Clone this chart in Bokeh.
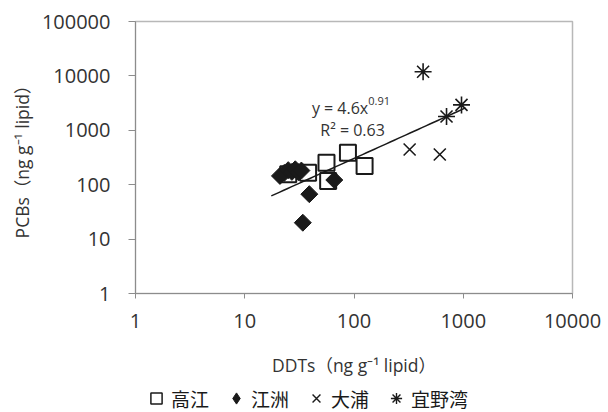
import numpy as np
from bokeh.plotting import figure
from bokeh.layouts import column
from bokeh.models import (FixedTicker, CustomJSTickFormatter, Label, Legend, LegendItem,
                          Range1d)
from bokeh.embed import file_html
from bokeh.resources import INLINE

# ---- data ----
site_names = ["高江", "江洲", "大浦", "宜野湾"]

gaojiang_ddt = [25, 38, 56, 58, 88, 125]
gaojiang_pcb = [155, 166, 253, 117, 385, 220]

jiangzhou_ddt = [21, 23, 25, 27, 29, 31, 33, 39, 34, 66]
jiangzhou_pcb = [145, 165, 185, 172, 192, 170, 182, 67, 20, 122]

daura_ddt = [323, 610]
daura_pcb = [443, 359]

ginowan_ddt = [429, 703, 964]
ginowan_pcb = [11900, 1794, 2932]

fit_coef = 4.6
fit_exp = 0.91
fit_r2 = 0.63
fit_xmin, fit_xmax = 17.5, 1050

x_ticks = [1, 10, 100, 1000, 10000]
y_ticks = [1, 10, 100, 1000, 10000, 100000]

TICK_FONT = "Open Sans"
LABEL_FONT = "Open Sans, Noto Sans CJK JP"
CJK_FONT = "Noto Sans CJK JP"
INK = "#1a1a1a"

series = [(gaojiang_ddt, gaojiang_pcb), (jiangzhou_ddt, jiangzhou_pcb),
          (daura_ddt, daura_pcb), (ginowan_ddt, ginowan_pcb)]
styles = [
    dict(marker="square", size=16, fill_color=None, line_color=INK, line_width=2),
    dict(marker="square", angle=np.pi / 4, size=12, fill_color=INK, line_color=INK, line_width=1),
    dict(marker="x", size=17, line_color=INK, line_width=1.6),
    dict(marker="asterisk", size=17, line_color=INK, line_width=1.6),
]
legend_styles = [
    dict(marker="square", fill_color=None, line_color=INK, line_width=1.5),
    dict(marker="diamond", fill_color=INK, line_color=INK, line_width=1),
    dict(marker="x", line_color=INK, line_width=1.4),
    dict(marker="asterisk", line_color=INK, line_width=1.4),
]

p = figure(width=608, height=379, x_axis_type="log", y_axis_type="log",
           x_range=Range1d(1, 10000), y_range=Range1d(1, 100000),
           output_backend="svg", toolbar_location=None,
           min_border_left=135, min_border_right=36, min_border_top=21, min_border_bottom=84)
p.background_fill_color = "white"
p.border_fill_color = "white"
p.outline_line_color = "#b8b8b8"
p.outline_line_width = 1.5
p.grid.visible = False

for ax, ticks in ((p.xaxis[0], x_ticks), (p.yaxis[0], y_ticks)):
    ax.ticker = FixedTicker(ticks=ticks, minor_ticks=[])
    ax.formatter = CustomJSTickFormatter(code="return tick.toFixed(0)")
    ax.axis_line_color = "#8c8c8c"
    ax.major_tick_line_color = "#8c8c8c"
    ax.minor_tick_line_color = None
    ax.major_tick_in = 0
    ax.major_label_text_font = TICK_FONT
    ax.major_label_text_font_size = "20px"
    ax.major_label_text_color = "#333333"
    ax.axis_label_text_font = LABEL_FONT
    ax.axis_label_text_font_size = "17.5px"
    ax.axis_label_text_font_style = "normal"
    ax.axis_label_text_color = "#333333"

p.xaxis.major_tick_out = 5
p.xaxis.major_label_standoff = 15
p.xaxis.axis_label = "DDTs（ng g⁻¹ lipid）"
p.xaxis.axis_label_standoff = 22
p.yaxis.major_tick_out = 7
p.yaxis.major_label_standoff = 18
p.yaxis.axis_label = "PCBs（ng g⁻¹ lipid）"
p.yaxis.axis_label_standoff = 5

# trend line (power law fit)
fx = np.geomspace(fit_xmin, fit_xmax, 50)
fy = fit_coef * fx ** fit_exp
p.line(fx, fy, line_color=INK, line_width=1.5)

for (xs, ys), st in zip(series, styles):
    p.scatter(xs, ys, **st)

# equation annotation
p.add_layout(Label(x=135, y=2531, text=f"y = {fit_coef}x", text_align="right",
                   text_baseline="alphabetic", text_font=TICK_FONT, text_font_size="16px",
                   text_color="#333333"))
p.add_layout(Label(x=135, y=3398, text=f"{fit_exp}", text_align="left",
                   text_baseline="alphabetic", text_font=TICK_FONT, text_font_size="11px",
                   text_color="#333333"))
p.add_layout(Label(x=97, y=1026, text=f"R² = {fit_r2}", text_align="center",
                   text_baseline="alphabetic", text_font=TICK_FONT, text_font_size="16px",
                   text_color="#333333"))

# legend strip below the chart (proxy glyphs lie outside this strip's ranges)
lg = figure(width=608, height=33, x_range=Range1d(-1, 0), y_range=Range1d(-1, 0),
            output_backend="svg", toolbar_location=None,
            x_axis_location=None, y_axis_location=None, min_border=0)
lg.outline_line_color = None
lg.grid.visible = False
proxies = [lg.scatter(xs, ys, **st) for (xs, ys), st in zip(series, legend_styles)]
legend = Legend(items=[LegendItem(label=n, renderers=[r]) for n, r in zip(site_names, proxies)],
                orientation="horizontal", location=(6, 0),
                glyph_width=30, glyph_height=28, label_standoff=0, spacing=12,
                padding=0, margin=0, border_line_color=None, background_fill_alpha=0,
                label_text_font=CJK_FONT, label_text_font_size="19px", label_text_color=INK)
lg.add_layout(legend, "center")

layout = column(p, lg, spacing=0)
open("out.html", "w").write(file_html(layout, INLINE))
